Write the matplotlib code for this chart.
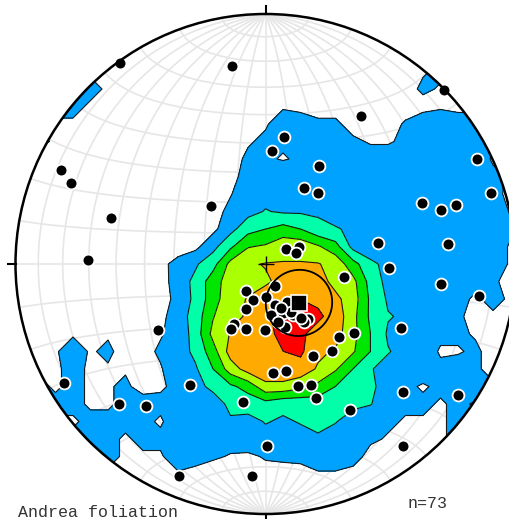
import numpy as np
import matplotlib
matplotlib.use("Agg")
import matplotlib.pyplot as plt
from matplotlib.patches import Circle

# -----------------------------
# DATA: poles (equal-area, lower hemisphere, unit radius)
# -----------------------------
pole_east = [
    -0.582, -0.134, 0.716, 0.382, 0.074, 0.026, 0.846, 0.214, -0.818, -0.778,
    0.154, 0.210, 0.902, 0.626, 0.762, -0.218, 0.702, -0.618, 0.450, 0.730,
    0.134, 0.082, 0.122, -0.710, 0.494, 0.314, 0.702, 0.038, -0.078, 0.854,
    0.002, -0.050, 0.086, 0.038, -0.078, 0.070, 0.022, 0.110, 0.170, 0.154,
    -0.126, 0.078, 0.542, -0.138, -0.078, -0.002, -0.430, 0.354, 0.294, 0.266,
    0.190, 0.082, 0.030, -0.806, -0.302, 0.130, 0.182, 0.550, 0.770, 0.202,
    -0.090, -0.586, -0.478, 0.338, 0.006, 0.550, -0.346, -0.054,
    0.130, 0.100, 0.060, 0.140, 0.050,
]
pole_north = [
    0.804, 0.792, 0.698, 0.592, 0.508, 0.452, 0.420, 0.392, 0.376, 0.324,
    0.304, 0.284, 0.284, 0.244, 0.236, 0.232, 0.216, 0.184, 0.084, 0.080,
    0.068, 0.060, 0.044, 0.016, -0.016, -0.052, -0.080, -0.088, -0.108, -0.128,
    -0.132, -0.144, -0.152, -0.164, -0.180, -0.196, -0.204, -0.204, -0.220, -0.232,
    -0.240, -0.252, -0.256, -0.260, -0.260, -0.264, -0.264, -0.276, -0.292, -0.348,
    -0.368, -0.428, -0.436, -0.476, -0.484, -0.488, -0.484, -0.512, -0.524, -0.536,
    -0.552, -0.560, -0.568, -0.584, -0.728, -0.728, -0.848, -0.848,
    -0.152, -0.190, -0.175, -0.215, -0.230,
]

title = "Andrea foliation"
sigma_levels = [2, 4, 6, 8, 10, 12, 100]
level_colors = ["#00a2ff", "#00ffa8", "#00e600", "#aaff00", "#ffaa00", "#ff0000"]


def to_vec(x, y):
    """inverse equal-area projection -> (east, north, down)"""
    x = np.asarray(x, float)
    y = np.asarray(y, float)
    r2 = x**2 + y**2
    s = np.where(r2 > 1, 1 / np.sqrt(np.maximum(r2, 1e-12)), 1.0)
    x, y = x * s, y * s
    r2 = np.minimum(r2, 1.0)
    f = np.sqrt(2 - r2)
    return np.stack([x * f, y * f, 1 - r2], axis=-1)


def project(v):
    v = np.atleast_2d(v)
    v = np.where(v[:, 2:3] < 0, -v, v)
    k = 1 / np.sqrt(1 + v[:, 2])
    return v[:, 0] * k, v[:, 1] * k


poles = to_vec(pole_east, pole_north)
n = len(poles)

# -----------------------------
# KAMB COUNT on a coarse grid
# -----------------------------
A = 9.0 / (n + 9)
cos_a = 1 - A
sigma = np.sqrt(n * A * (1 - A))
g = np.linspace(-1.05, 1.05, 31)
GX, GY = np.meshgrid(g, g)
nodes = to_vec(GX, GY)
dots = np.abs(nodes @ poles.T)
counts = (dots >= cos_a).sum(axis=-1) / sigma

# mean pole + fisher cone
R_vec = poles.sum(axis=0)
R = np.linalg.norm(R_vec)
m = R_vec / R
a95 = np.arccos(1 - (n - R) / R * (20 ** (1 / (n - 1)) - 1))
u = np.cross(m, [0, 0, 1.0])
u /= np.linalg.norm(u)
w = np.cross(m, u)
phi = np.linspace(0, 2 * np.pi, 200)
cone = np.cos(a95) * m + np.sin(a95) * (np.outer(np.cos(phi), u) + np.outer(np.sin(phi), w))

# -----------------------------
# PLOT
# -----------------------------
fig = plt.figure(figsize=(5.10, 5.19), dpi=100)
ax = fig.add_axes([0, 0, 1, 1])
ax.set_xlim(-265.5 / 250, 244.5 / 250)
ax.set_ylim(-255 / 250, 264 / 250)
ax.axis("off")

clip = Circle((0, 0), 1, transform=ax.transData)

# schmidt net grid, 10 deg
t = np.linspace(0, np.pi, 181)
for a in np.radians(np.arange(10, 180, 10)):
    v = np.outer(np.cos(t), [0, 1, 0]) + np.outer(np.sin(t), [np.cos(a), 0, np.sin(a)])
    ax.plot(*project(v), color="#e6e6e6", lw=1.2, zorder=1)
for c in np.radians(np.arange(10, 180, 10)):
    v = np.stack([np.sin(c) * np.cos(t), np.full_like(t, np.cos(c)), np.sin(c) * np.sin(t)], axis=1)
    ax.plot(*project(v), color="#e6e6e6", lw=1.2, zorder=1)

cf = ax.contourf(GX, GY, counts, levels=sigma_levels, colors=level_colors, zorder=2)
cf.set_clip_path(clip)
cl = ax.contour(GX, GY, counts, levels=sigma_levels[:-1], colors="#1a1a1a", linewidths=0.8, zorder=3)
cl.set_clip_path(clip)

px, py = project(poles)
ax.plot(px, py, "o", ms=8.5, mfc="black", mec="white", mew=1.3, zorder=5)

ax.plot(*project(cone), color="black", lw=1.3, zorder=6)
mx, my = project(m)
ax.plot(mx, my, "s", ms=12, mfc="black", mec="white", mew=1.2, zorder=7)
ax.plot(0, 0, "+", ms=11, color="black", mew=1.0, zorder=7)

ax.add_patch(Circle((0, 0), 1, fill=False, ec="black", lw=1.8, zorder=8))
tk = 8 / 250
for x0, y0, x1, y1 in [(0, 1, 0, 1 + tk), (0, -1, 0, -1 - tk), (-1, 0, -1 - tk, 0), (1, 0, 1 + tk, 0)]:
    ax.plot([x0, x1], [y0, y1], color="black", lw=1.5, zorder=8, clip_on=False)

fig.text(18 / 510, 2 / 519, title, family="Liberation Mono", fontsize=12, color="#333333", va="baseline")
fig.text(408 / 510, 11 / 519, f"n={n}", family="Liberation Mono", fontsize=12, color="#333333", va="baseline")

fig.savefig("out.png", dpi=100)
